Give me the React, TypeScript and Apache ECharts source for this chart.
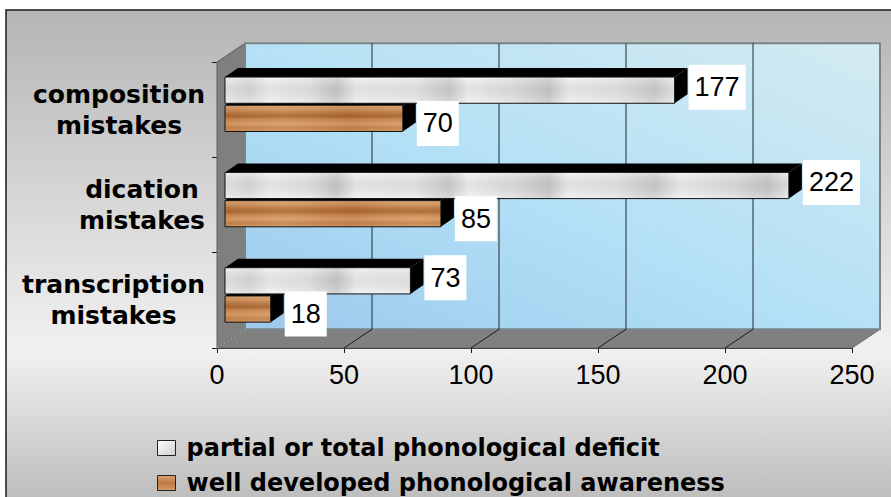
import React, { useEffect, useRef } from "react";
import * as echarts from "echarts";

// Categories, top to bottom
const categories = ["composition\nmistakes", "dication\nmistakes", "transcription\nmistakes"];
// Number of mistakes per group
const deficitValues = [177, 222, 73];
const awarenessValues = [70, 85, 18];
const seriesNames = [
  "partial or total phonological deficit",
  "well developed phonological awareness",
];
const xMin = 0;
const xMax = 250;
const xStep = 50;
const xTicks = [0, 50, 100, 150, 200, 250];

// 3D projection of the plot box (pixels)
const DEPTH_X = 28;
const DEPTH_Y = -18.7;
// bar front plane offset and bar thickness along depth
const BAR_OFF_X = 8;
const BAR_OFF_Y = -5.4;
const BAR_D_X = 13;
const BAR_D_Y = -9;

const marbleFill = {
  type: "linear",
  x: 217,
  y: 0,
  x2: 880,
  y2: 0,
  global: true,
  colorStops: [
    { offset: 0, color: "#ededed" },
    { offset: 0.05, color: "#dadada" },
    { offset: 0.08, color: "#f1f1f1" },
    { offset: 0.14, color: "#e4e4e4" },
    { offset: 0.18, color: "#c6c6c6" },
    { offset: 0.21, color: "#efefef" },
    { offset: 0.3, color: "#e8e8e8" },
    { offset: 0.35, color: "#cbcbcb" },
    { offset: 0.38, color: "#f2f2f2" },
    { offset: 0.45, color: "#dedede" },
    { offset: 0.5, color: "#c6c6c6" },
    { offset: 0.53, color: "#efefef" },
    { offset: 0.6, color: "#e6e6e6" },
    { offset: 0.66, color: "#cbcbcb" },
    { offset: 0.7, color: "#f0f0f0" },
    { offset: 0.78, color: "#dddddd" },
    { offset: 0.83, color: "#c6c6c6" },
    { offset: 0.87, color: "#eeeeee" },
    { offset: 0.93, color: "#dedede" },
    { offset: 1, color: "#ececec" },
  ],
};

const marbleShade = {
  type: "linear",
  x: 0,
  y: 0,
  x2: 0,
  y2: 1,
  colorStops: [
    { offset: 0, color: "rgba(255,255,255,0.35)" },
    { offset: 0.5, color: "rgba(150,150,150,0.15)" },
    { offset: 1, color: "rgba(255,255,255,0.25)" },
  ],
};

const woodFill = {
  type: "linear",
  x: 0,
  y: 0,
  x2: 0,
  y2: 1,
  colorStops: [
    { offset: 0, color: "#d8a272" },
    { offset: 0.15, color: "#cf9460" },
    { offset: 0.3, color: "#b77541" },
    { offset: 0.42, color: "#a8652f" },
    { offset: 0.55, color: "#c98a54" },
    { offset: 0.72, color: "#d79e69" },
    { offset: 0.86, color: "#c4834c" },
    { offset: 1, color: "#d39a66" },
  ],
};

const woodShade = {
  type: "linear",
  x: 217,
  y: 0,
  x2: 880,
  y2: 0,
  global: true,
  colorStops: [
    { offset: 0, color: "rgba(120,60,20,0.10)" },
    { offset: 0.1, color: "rgba(255,220,180,0.10)" },
    { offset: 0.2, color: "rgba(120,60,20,0.12)" },
    { offset: 0.3, color: "rgba(255,220,180,0.08)" },
    { offset: 0.4, color: "rgba(120,60,20,0.10)" },
    { offset: 0.5, color: "rgba(255,220,180,0.10)" },
    { offset: 1, color: "rgba(120,60,20,0.05)" },
  ],
};

const wallFill = {
  type: "linear",
  x: 0,
  y: 1,
  x2: 1,
  y2: 0,
  colorStops: [
    { offset: 0, color: "#9cc9ec" },
    { offset: 0.45, color: "#b3e0f6" },
    { offset: 1, color: "#d4ebf1" },
  ],
};

const pageFill = {
  type: "linear",
  x: 0,
  y: 0,
  x2: 0,
  y2: 1,
  colorStops: [
    { offset: 0, color: "#b5b5b5" },
    { offset: 0.68, color: "#f1f1f1" },
    { offset: 1, color: "#b9b9b9" },
  ],
};

function renderWalls(params: any, api: any) {
  const cs = params.coordSys;
  const L = cs.x;
  const R = cs.x + cs.width;
  const T = cs.y;
  const B = cs.y + cs.height;
  const children: any[] = [];
  // left side wall
  children.push({
    type: "polygon",
    shape: { points: [[L, T], [L + DEPTH_X, T + DEPTH_Y], [L + DEPTH_X, B + DEPTH_Y], [L, B]] },
    style: { fill: "#7f7f7f", stroke: "#5e5e5e", lineWidth: 1 },
  });
  // floor
  children.push({
    type: "polygon",
    shape: { points: [[L, B], [R, B], [R + DEPTH_X, B + DEPTH_Y], [L + DEPTH_X, B + DEPTH_Y]] },
    style: { fill: "#808080", stroke: "#6a6a6a", lineWidth: 1 },
  });
  // back wall
  children.push({
    type: "rect",
    shape: { x: L + DEPTH_X, y: T + DEPTH_Y, width: cs.width, height: cs.height },
    style: { fill: wallFill, stroke: "#7a8589", lineWidth: 2 },
  });
  xTicks.forEach((t) => {
    const x = api.coord([t, 0])[0];
    if (t !== xMin && t !== xMax) {
      children.push({
        type: "line",
        shape: { x1: x + DEPTH_X, y1: T + DEPTH_Y, x2: x + DEPTH_X, y2: B + DEPTH_Y },
        style: { stroke: "#1e2a30", lineWidth: 1 },
      });
    }
    if (t !== xMax) {
      children.push({
        type: "line",
        shape: { x1: x, y1: B, x2: x + DEPTH_X, y2: B + DEPTH_Y },
        style: {
          stroke: t === xMin ? "#b0b0b0" : "#1a1a1a",
          lineWidth: 1,
          lineDash: t === xMin ? [2, 2] : null,
        },
      });
    }
  });
  return { type: "group", children };
}

function makeBarRenderer(upper: boolean) {
  return function (params: any, api: any) {
    const cat = api.value(0);
    const v = api.value(1);
    const origin = api.coord([0, cat]);
    const end = api.coord([v, cat]);
    const band = api.size([0, 1])[1];
    const barH = band * 0.275;
    const mid = origin[1] + BAR_OFF_Y;
    const top = upper ? mid - barH - 1 : mid + 1;
    const bottom = top + barH;
    const x0 = origin[0] + BAR_OFF_X;
    const x1 = end[0] + BAR_OFF_X;
    const children: any[] = [
      {
        type: "polygon",
        shape: {
          points: [[x0, top], [x0 + BAR_D_X, top + BAR_D_Y], [x1 + BAR_D_X, top + BAR_D_Y], [x1, top]],
        },
        style: { fill: "#000" },
      },
      {
        type: "polygon",
        shape: {
          points: [[x1, top], [x1 + BAR_D_X, top + BAR_D_Y], [x1 + BAR_D_X, bottom + BAR_D_Y], [x1, bottom]],
        },
        style: { fill: "#000" },
      },
      {
        type: "rect",
        shape: { x: x0, y: top, width: x1 - x0, height: barH },
        style: { fill: upper ? marbleFill : woodFill },
      },
      {
        type: "rect",
        shape: { x: x0, y: top, width: x1 - x0, height: barH },
        style: { fill: upper ? marbleShade : woodShade, stroke: "#111", lineWidth: 1 },
      },
      {
        type: "text",
        z2: 100,
        style: {
          text: String(v),
          x: x1 + 14,
          y: (top + bottom) / 2 + (upper ? -3 : 5),
          align: "left",
          verticalAlign: "middle",
          font: '27px "Liberation Sans", Arial, sans-serif',
          fill: "#000",
          backgroundColor: "#fff",
          padding: [9, 6, 9, 6],
          lineHeight: 27,
        },
      },
    ];
    return { type: "group", children };
  };
}

export default function App() {
  const ref = useRef<HTMLDivElement>(null);

  useEffect(() => {
    document.body.style.margin = "0";
    if (!ref.current) return;
    const chart = echarts.init(ref.current, null, { renderer: "svg" });

    const option: any = {
      animation: false,
      graphic: {
        elements: [
          {
            type: "rect",
            z: -10,
            shape: { x: 6, y: 10, width: 900, height: 500 },
            style: { fill: pageFill, stroke: "#1a1a1a", lineWidth: 1.5 },
          },
        ],
      },
      grid: { left: 217, top: 62, width: 635, height: 286, containLabel: false },
      xAxis: {
        type: "value",
        min: xMin,
        max: xMax,
        interval: xStep,
        axisLine: { show: true, lineStyle: { color: "#1a1a1a", width: 1 } },
        axisTick: { show: true, length: 5, lineStyle: { color: "#1a1a1a" } },
        splitLine: { show: false },
        axisLabel: {
          margin: 13,
          color: "#000",
          fontFamily: '"Liberation Sans", Arial, sans-serif',
          fontSize: 27,
        },
      },
      yAxis: {
        type: "category",
        inverse: true,
        data: categories,
        axisLine: { show: true, lineStyle: { color: "#1a1a1a", width: 1 } },
        axisTick: { show: true, length: 5, lineStyle: { color: "#1a1a1a" } },
        splitLine: { show: false },
        axisLabel: {
          margin: 12,
          align: "right",
          formatter: (val: string) =>
            val
              .split("\n")
              .map((line) => `{c|${line}}`)
              .join("\n"),
          rich: {
            c: {
              align: "center",
              fontFamily: '"DejaVu Sans", sans-serif',
              fontWeight: "bold",
              fontSize: 25,
              lineHeight: 31,
              color: "#000",
            },
          },
        },
      },
      legend: {
        orient: "vertical",
        left: 157,
        top: 436,
        padding: 0,
        icon: "rect",
        itemWidth: 18,
        itemHeight: 15,
        itemGap: 11,
        selectedMode: false,
        textStyle: {
          fontFamily: '"DejaVu Sans", sans-serif',
          fontWeight: "bold",
          fontSize: 24,
          lineHeight: 24,
          color: "#000",
          padding: [0, 0, 0, 6],
        },
        data: [
          {
            name: seriesNames[0],
            itemStyle: {
              color: {
                type: "linear",
                x: 0,
                y: 0,
                x2: 1,
                y2: 1,
                colorStops: [
                  { offset: 0, color: "#ffffff" },
                  { offset: 1, color: "#cfcfcf" },
                ],
              },
              borderColor: "#222",
              borderWidth: 1,
            },
          },
          {
            name: seriesNames[1],
            itemStyle: {
              color: {
                type: "linear",
                x: 0,
                y: 0,
                x2: 0,
                y2: 1,
                colorStops: [
                  { offset: 0, color: "#d9a06c" },
                  { offset: 0.5, color: "#c07a44" },
                  { offset: 1, color: "#d49a66" },
                ],
              },
              borderColor: "#222",
              borderWidth: 1,
            },
          },
        ],
      },
      series: [
        {
          type: "custom",
          name: "plot box",
          renderItem: renderWalls,
          data: [[0, 0]],
          encode: { x: 0, y: 1 },
          silent: true,
          z: 1,
        },
        {
          type: "custom",
          name: seriesNames[1],
          renderItem: makeBarRenderer(false),
          data: awarenessValues.map((v, i) => [i, v]),
          encode: { x: 1, y: 0 },
          z: 2,
        },
        {
          type: "custom",
          name: seriesNames[0],
          renderItem: makeBarRenderer(true),
          data: deficitValues.map((v, i) => [i, v]),
          encode: { x: 1, y: 0 },
          z: 2,
        },
      ],
    };

    chart.setOption(option);
    return () => chart.dispose();
  }, []);

  return <div ref={ref} style={{ width: 891, height: 497 }} />;
}
